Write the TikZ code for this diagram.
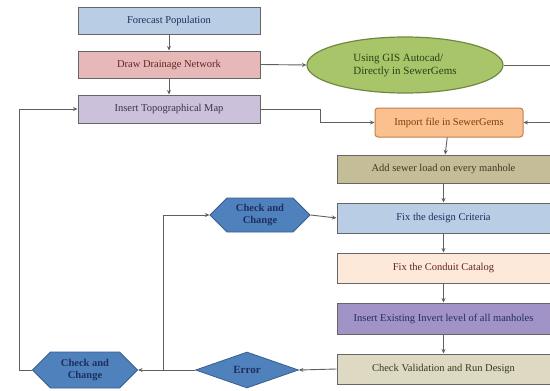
\documentclass[tikz,border=0pt]{standalone}
\usepackage{fontspec}
\setmainfont{Liberation Serif}
\usetikzlibrary{shapes.geometric,shapes.symbols,arrows.meta}
\definecolor{cFP}{HTML}{B9CDE5}
\definecolor{cDD}{HTML}{E6B9B8}
\definecolor{cTM}{HTML}{CCC1DA}
\definecolor{cEL}{HTML}{A9C56A}
\definecolor{cELb}{HTML}{71893F}
\definecolor{cIM}{HTML}{FAC090}
\definecolor{cIMb}{HTML}{C0804A}
\definecolor{cAD}{HTML}{C4BD97}
\definecolor{cCC}{HTML}{FDE9D9}
\definecolor{cIE}{HTML}{A293C6}
\definecolor{cCV}{HTML}{DDD9C3}
\definecolor{cHX}{HTML}{4F81BD}
\definecolor{cHXb}{HTML}{385D8A}
\definecolor{tNavy}{HTML}{1F2F5F}
\definecolor{tMaroon}{HTML}{632523}
\definecolor{tPurp}{HTML}{3F3151}
\definecolor{tGreen}{HTML}{254117}
\definecolor{tBrown}{HTML}{7F3F00}
\definecolor{tOlive}{HTML}{3B3A1F}
\definecolor{lineC}{HTML}{606060}
\tikzset{
  every node/.style={font=\fontsize{10.5}{12}\selectfont},
  box/.style={draw=gray!80!black, line width=1pt, rectangle, inner sep=2pt},
  hexa/.style={shape=signal, signal to=east and west, signal pointer angle=90,
    fill=cHX, draw=cHXb, line width=0.8pt, text=tNavy, align=center, inner sep=1pt,
    font=\fontsize{10.5}{11.5}\selectfont\bfseries},
  conn/.style={draw=lineC, line width=0.9pt},
  arr/.style={conn, -{Stealth[length=4.5pt,width=4pt]}},
}
\begin{document}
\begin{tikzpicture}[x=1pt,y=-1pt]
\useasboundingbox (0,0) rectangle (550,391);
\fill[white] (0,0) rectangle (550,391);
% left column
\node[box, fill=cFP, text=tNavy, minimum width=182pt, minimum height=27pt] (fp) at (169,20.5) {Forecast Population};
\node[box, fill=cDD, text=tMaroon, minimum width=182pt, minimum height=27pt] (dd) at (169,64.5) {Draw Drainage Network};
\node[box, fill=cTM, text=tPurp, minimum width=182pt, minimum height=28pt] (tm) at (169,109) {Insert Topographical Map};
% ellipse
\node[ellipse, fill=cEL, draw=cELb, line width=1.2pt, text=tGreen, align=left,
  minimum width=196pt, minimum height=56pt, inner sep=1pt, font=\fontsize{11}{13}\selectfont] (ell) at (405,65) {Using GIS Autocad/\\Directly in SewerGems};
% right column
\node[box, rounded corners=3pt, fill=cIM, draw=cIMb, text=tBrown, minimum width=148pt, minimum height=29pt] (imp) at (449,122.5) {Import file in SewerGems};
\node[box, fill=cAD, text=tOlive, minimum width=213pt, minimum height=28pt] (add) at (443.5,169) {Add sewer load on every manhole};
\node[box, fill=cFP, text=tNavy, minimum width=213pt, minimum height=30pt] (fdc) at (443.5,218) {Fix the design Criteria};
\node[box, fill=cCC, text=tMaroon, minimum width=213pt, minimum height=30pt] (fcc) at (443.5,268) {Fix the Conduit Catalog};
\node[box, fill=cIE, text=tNavy, minimum width=213pt, minimum height=31pt] (iei) at (443.5,318.5) {Insert Existing Invert level of all manholes};
\node[box, fill=cCV, text=tOlive, minimum width=213pt, minimum height=30pt] (cvr) at (443.5,369) {Check Validation and Run Design};
% decisions
\node[hexa, minimum width=100pt, minimum height=34pt] (hx1) at (260,215) {Check and\\Change};
\node[hexa, minimum width=105pt, minimum height=36pt] (hx2) at (85,370) {Check and\\Change};
\node[diamond, fill=cHX, draw=cHXb, line width=0.8pt, text=tNavy, minimum width=103pt, minimum height=36pt, inner sep=0pt, font=\fontsize{11}{12}\selectfont\bfseries] (err) at (247,370) {Error};
\coordinate (jn) at (163,370);
\coordinate (re) at (552,65);
% connectors
\draw[arr] (fp) -- (dd);
\draw[arr] (dd) -- (tm);
\draw[arr] (dd.east) -- (ell.west);
\draw[arr] (tm.east) -- ++(60,0) |- (imp.west);
\draw[arr] (ell.east) -- (re) |- (imp.east);
\draw[arr] (imp) -- (add);
\draw[arr] (add) -- (fdc);
\draw[arr] (fdc) -- (fcc);
\draw[arr] (fcc) -- (iei);
\draw[arr] (iei) -- (cvr);
\draw[arr] (cvr.west) -- (err.east);
\draw[arr] (err.west) -- (hx2.east);
\draw[arr] (jn) |- (hx1.west);
\draw[arr] (hx1.east) -- (fdc.west);
\draw[arr] (hx2.west) -- ++(-12,0) |- (tm.west);
\end{tikzpicture}
\end{document}
